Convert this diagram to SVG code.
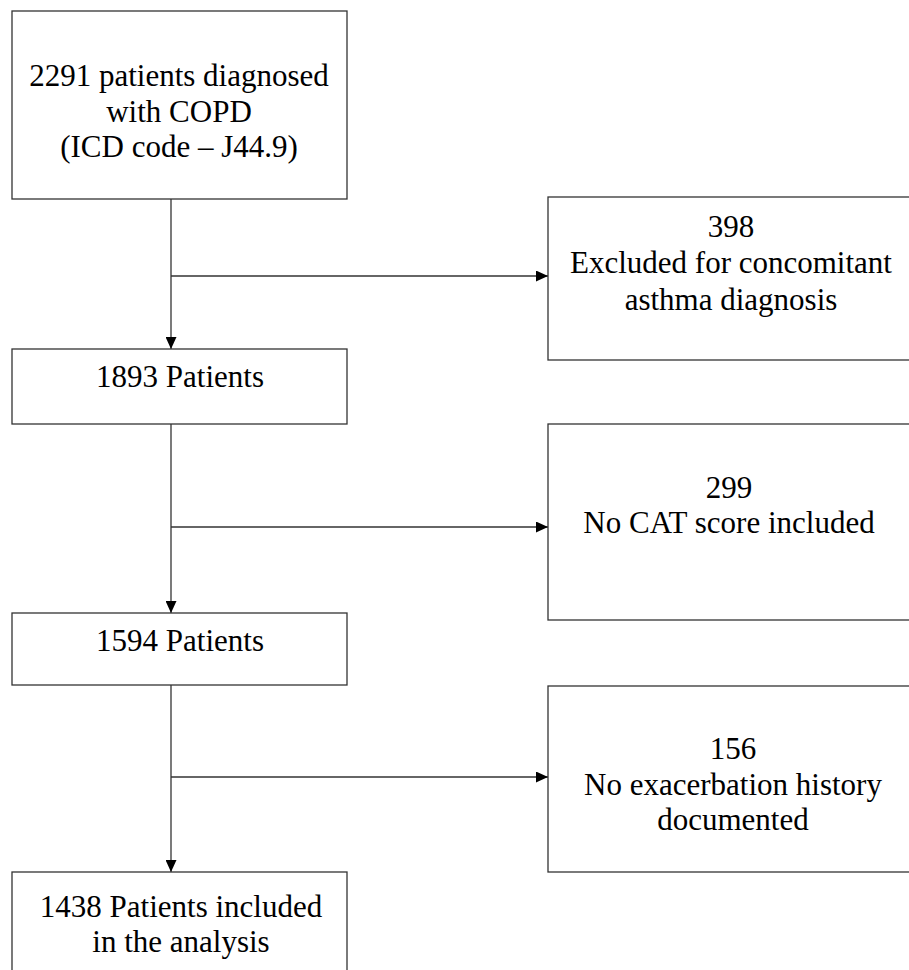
<svg xmlns="http://www.w3.org/2000/svg" width="909" height="970" viewBox="0 0 909 970">
<style>
.box{fill:#fff;stroke:#333;stroke-width:1.3}
.t{font-family:"Liberation Serif","Times New Roman",serif;font-size:31px;fill:#000;text-anchor:middle}
.c{fill:none;stroke:#333;stroke-width:1.3}
</style>
<defs>
<marker id="ah" viewBox="0 0 12 11" refX="12" refY="5.5" markerWidth="12" markerHeight="11" markerUnits="userSpaceOnUse" orient="auto">
<path d="M0,0 L12,5.5 L0,11 Z" fill="#000"/>
</marker>
</defs>
<rect width="909" height="970" fill="#fff"/>
<g id="connectors">
<line class="c" x1="171" y1="199" x2="171" y2="349" marker-end="url(#ah)"/>
<line class="c" x1="171" y1="276" x2="548" y2="276" marker-end="url(#ah)"/>
<line class="c" x1="171" y1="424" x2="171" y2="613" marker-end="url(#ah)"/>
<line class="c" x1="171" y1="527" x2="548" y2="527" marker-end="url(#ah)"/>
<line class="c" x1="171" y1="685" x2="171" y2="872" marker-end="url(#ah)"/>
<line class="c" x1="171" y1="777" x2="548" y2="777" marker-end="url(#ah)"/>
</g>
<g id="n2291">
<rect class="box" x="12" y="11" width="335" height="188"/>
<text class="t" x="179" y="86">2291 patients diagnosed</text>
<text class="t" x="179" y="122">with COPD</text>
<text class="t" x="179" y="157">(ICD code – J44.9)</text>
</g>
<g id="n398">
<rect class="box" x="548" y="197" width="380" height="163"/>
<text class="t" x="731" y="237">398</text>
<text class="t" x="731" y="273">Excluded for concomitant</text>
<text class="t" x="731" y="310">asthma diagnosis</text>
</g>
<g id="n1893">
<rect class="box" x="12" y="349" width="335" height="75"/>
<text class="t" x="180" y="387">1893 Patients</text>
</g>
<g id="n299">
<rect class="box" x="548" y="424" width="380" height="196"/>
<text class="t" x="729" y="498">299</text>
<text class="t" x="729" y="533">No CAT score included</text>
</g>
<g id="n1594">
<rect class="box" x="12" y="613" width="335" height="72"/>
<text class="t" x="180" y="651">1594 Patients</text>
</g>
<g id="n156">
<rect class="box" x="548" y="686" width="380" height="186"/>
<text class="t" x="733" y="759">156</text>
<text class="t" x="733" y="795">No exacerbation history</text>
<text class="t" x="733" y="830">documented</text>
</g>
<g id="n1438">
<rect class="box" x="12" y="872" width="335" height="120"/>
<text class="t" x="181" y="917">1438 Patients included</text>
<text class="t" x="181" y="952">in the analysis</text>
</g>
</svg>
